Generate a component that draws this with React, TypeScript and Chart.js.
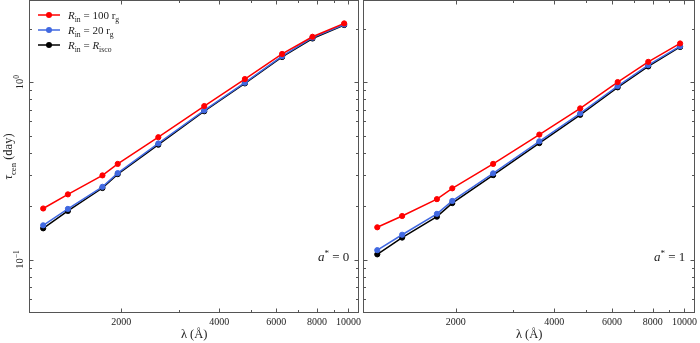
import React, { useEffect, useRef } from 'react';
import { Chart, registerables } from 'chart.js';

Chart.register(...registerables);

// ---------- data ----------
const wavelengths = [1150, 1370, 1750, 1950, 2600, 3600, 4800, 6250, 7750, 9700];

const tauR100Spin0 = [0.194, 0.233, 0.298, 0.346, 0.489, 0.733, 1.04, 1.44, 1.8, 2.14];
const tauR20Spin0 = [0.156, 0.193, 0.257, 0.307, 0.451, 0.693, 0.992, 1.4, 1.78, 2.11];
const tauRiscoSpin0 = [0.15, 0.188, 0.253, 0.303, 0.444, 0.685, 0.983, 1.385, 1.76, 2.095];

const tauR100Spin1 = [0.152, 0.176, 0.219, 0.252, 0.346, 0.506, 0.711, 1.0, 1.3, 1.65];
const tauR20Spin1 = [0.113, 0.138, 0.181, 0.214, 0.306, 0.464, 0.667, 0.95, 1.246, 1.592];
const tauRiscoSpin1 = [0.107, 0.133, 0.1745, 0.208, 0.299, 0.453, 0.654, 0.934, 1.225, 1.577];

const xTickValues = [2000, 4000, 6000, 8000, 10000];
const xMinorValues = [3000, 5000, 7000, 9000];
const yTickValues = [0.1, 1];
const yTickExponents = ['\u22121', '0'];
const yMinorValues = [0.06, 0.07, 0.08, 0.09, 0.2, 0.3, 0.4, 0.5, 0.6, 0.7, 0.8, 0.9, 2];

const seriesColors = ['#ff0000', '#4169e1', '#000000'];

type Part = { t: string; it?: boolean; sub?: boolean; sup?: boolean };

const seriesLegend: Part[][] = [
  [{ t: 'R', it: true }, { t: 'in', sub: true }, { t: ' = 100 r' }, { t: 'g', sub: true }],
  [{ t: 'R', it: true }, { t: 'in', sub: true }, { t: ' = 20 r' }, { t: 'g', sub: true }],
  [{ t: 'R', it: true }, { t: 'in', sub: true }, { t: ' = ' }, { t: 'R', it: true }, { t: 'isco', sub: true }],
];

const yTitle: Part[] = [{ t: '\u03c4', it: true }, { t: 'cen', sub: true }, { t: ' (day)' }];

const FAMILY = '"Liberation Serif", "DejaVu Serif", serif';

// ---------- rich text helpers ----------
function partFont(p: Part, size: number) {
  const s = p.sub || p.sup ? size * 0.7 : size;
  return `${p.it ? 'italic ' : ''}${s}px ${FAMILY}`;
}
function richWidth(ctx: CanvasRenderingContext2D, parts: Part[], size: number) {
  let w = 0;
  for (const p of parts) {
    ctx.font = partFont(p, size);
    w += ctx.measureText(p.t).width;
  }
  return w;
}
function drawRich(
  ctx: CanvasRenderingContext2D,
  parts: Part[],
  x: number,
  y: number,
  size: number,
  align: 'left' | 'center' | 'right',
  color = '#111'
) {
  const w = richWidth(ctx, parts, size);
  let cx = align === 'left' ? x : align === 'center' ? x - w / 2 : x - w;
  ctx.fillStyle = color;
  ctx.textAlign = 'left';
  ctx.textBaseline = 'alphabetic';
  for (const p of parts) {
    ctx.font = partFont(p, size);
    const dy = p.sub ? size * 0.28 : p.sup ? -size * 0.42 : 0;
    ctx.fillText(p.t, cx, y + dy);
    cx += ctx.measureText(p.t).width;
  }
}

type PanelCfg = {
  isLeft: boolean;
  spinLabel: string;
  series: number[][];
};

function makeDecor(cfg: PanelCfg) {
  return {
    id: 'decor',
    afterDraw(chart: any) {
      const ctx: CanvasRenderingContext2D = chart.ctx;
      const { left, right, top, bottom } = chart.chartArea;
      const xs = chart.scales.x;
      const ys = chart.scales.y;
      ctx.save();
      // frame
      ctx.strokeStyle = '#555';
      ctx.lineWidth = 1;
      const L = Math.round(left) + 0.5;
      const R = Math.round(right) - 0.5;
      const T = Math.round(top) + 0.5;
      const B = Math.round(bottom) - 0.5;
      ctx.strokeRect(L, T, R - L, B - T);
      // ticks (inward, all sides)
      ctx.beginPath();
      const tick = (vals: number[], len: number) => {
        for (const v of vals) {
          const px = Math.round(xs.getPixelForValue(v)) + 0.5;
          if (px < left || px > right) continue;
          ctx.moveTo(px, B);
          ctx.lineTo(px, B - len);
          ctx.moveTo(px, T);
          ctx.lineTo(px, T + len);
        }
      };
      const ytick = (vals: number[], len: number) => {
        for (const v of vals) {
          const py = Math.round(ys.getPixelForValue(v)) + 0.5;
          if (py < top || py > bottom) continue;
          ctx.moveTo(L, py);
          ctx.lineTo(L + len, py);
          ctx.moveTo(R, py);
          ctx.lineTo(R - len, py);
        }
      };
      tick(xTickValues, 4);
      tick(xMinorValues, 2.5);
      ytick(yTickValues, 4);
      ytick(yMinorValues, 2.5);
      ctx.stroke();

      if (cfg.isLeft) {
        // y tick labels (rotated)
        yTickValues.forEach((v, i) => {
          const py = ys.getPixelForValue(v);
          ctx.save();
          ctx.translate(23, py);
          ctx.rotate(-Math.PI / 2);
          drawRich(ctx, [{ t: '10' }, { t: yTickExponents[i], sup: true }], 0, 0, 10.5, 'center', '#222');
          ctx.restore();
        });
        // y title
        ctx.save();
        ctx.translate(12, (top + bottom) / 2);
        ctx.rotate(-Math.PI / 2);
        drawRich(ctx, yTitle, 0, 0, 12.5, 'center', '#222');
        ctx.restore();
        // legend
        seriesLegend.forEach((parts, i) => {
          const y = 15 + i * 15;
          ctx.strokeStyle = seriesColors[i];
          ctx.lineWidth = 1.5;
          ctx.beginPath();
          ctx.moveTo(38, y);
          ctx.lineTo(60, y);
          ctx.stroke();
          ctx.fillStyle = seriesColors[i];
          ctx.beginPath();
          ctx.arc(49, y, 3, 0, Math.PI * 2);
          ctx.fill();
          drawRich(ctx, parts, 68, y + 4, 11, 'left', '#222');
        });
      }
      // spin annotation
      drawRich(
        ctx,
        [{ t: 'a', it: true }, { t: '*', sup: true }, { t: ' = ' + cfg.spinLabel }],
        right - 10,
        261,
        13,
        'right',
        '#222'
      );
      ctx.restore();
    },
  };
}

function Panel({ cfg, x, width }: { cfg: PanelCfg; x: number; width: number }) {
  const ref = useRef<HTMLCanvasElement | null>(null);
  useEffect(() => {
    if (!ref.current) return;
    const datasets = cfg.series.map((vals, i) => ({
      label: 'series' + i,
      data: wavelengths.map((w, j) => ({ x: w, y: vals[j] })),
      borderColor: seriesColors[i],
      backgroundColor: seriesColors[i],
      borderWidth: 1.5,
      pointRadius: 2.6,
      pointBorderWidth: 1,
      pointBackgroundColor: seriesColors[i],
      pointBorderColor: seriesColors[i],
      tension: 0,
      order: i,
    }));
    const yScale: any = {
      type: 'logarithmic',
      min: 0.05,
      max: 2.9,
      display: cfg.isLeft,
      afterBuildTicks: (s: any) => {
        s.ticks = yTickValues.map((v) => ({ value: v }));
      },
      grid: { display: false, drawTicks: false },
      border: { display: false },
      ticks: { display: false },
    };
    if (cfg.isLeft) {
      yScale.afterFit = (s: any) => {
        s.width = 29;
      };
    }
    const chart = new Chart(ref.current, {
      type: 'line',
      data: { datasets },
      options: {
        responsive: false,
        animation: false,
        devicePixelRatio: 1,
        layout: {
          autoPadding: false,
          padding: cfg.isLeft
            ? { top: 0, right: 1, left: 0, bottom: 0 }
            : { top: 0, right: 2, left: 0, bottom: 0 },
        },
        plugins: {
          legend: { display: false },
          tooltip: { enabled: false },
        },
        scales: {
          x: {
            type: 'logarithmic',
            min: 1040,
            max: 10800,
            afterBuildTicks: (s: any) => {
              s.ticks = xTickValues.map((v) => ({ value: v }));
            },
            afterFit: (s: any) => {
              s.height = 30;
            },
            grid: { display: false, drawTicks: false },
            border: { display: false },
            ticks: {
              autoSkip: false,
              minRotation: 0,
              maxRotation: 0,
              padding: 3,
              color: '#222',
              font: { family: FAMILY, size: 10 },
              callback: (v: any) => String(v),
            },
            title: {
              display: true,
              text: '\u03bb (\u00c5)',
              color: '#222',
              font: { family: FAMILY, size: 12.5 },
              padding: { top: 0, bottom: 1 },
            },
          },
          y: yScale,
        },
      } as any,
      plugins: [makeDecor(cfg)],
    });
    return () => chart.destroy();
  }, []);
  return (
    <canvas
      ref={ref}
      width={width}
      height={343}
      style={{ position: 'absolute', left: x, top: 0, width, height: 343 }}
    />
  );
}

export default function App() {
  const leftCfg: PanelCfg = {
    isLeft: true,
    spinLabel: '0',
    series: [tauR100Spin0, tauR20Spin0, tauRiscoSpin0],
  };
  const rightCfg: PanelCfg = {
    isLeft: false,
    spinLabel: '1',
    series: [tauR100Spin1, tauR20Spin1, tauRiscoSpin1],
  };
  return (
    <div style={{ position: 'fixed', left: 0, top: 0, width: 700, height: 343, background: '#fff' }}>
      <Panel cfg={leftCfg} x={0} width={364} />
      <Panel cfg={rightCfg} x={363} width={337} />
    </div>
  );
}
